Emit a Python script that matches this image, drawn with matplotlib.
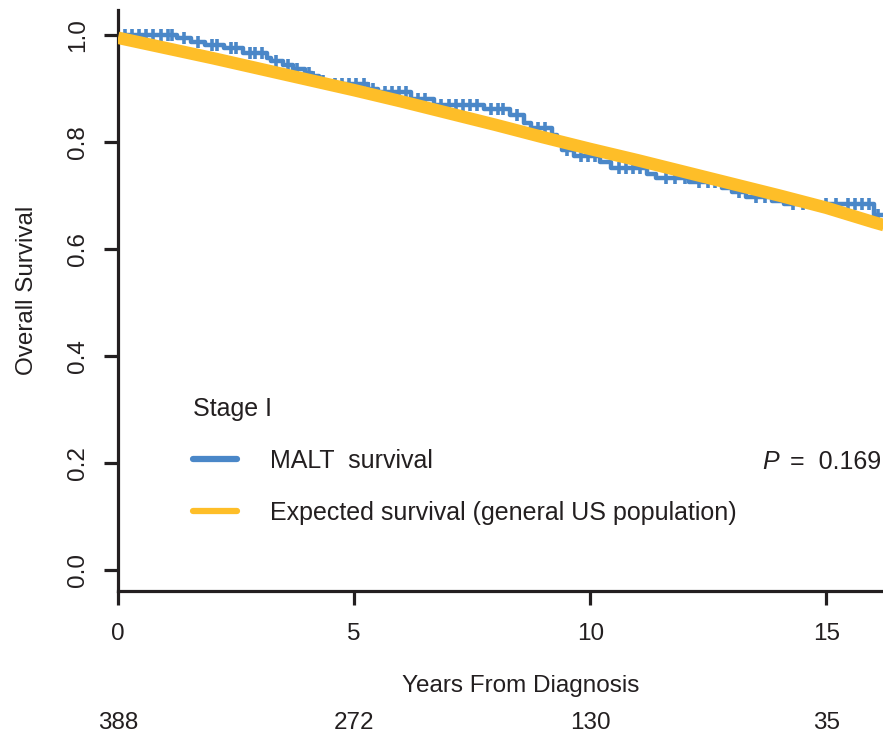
import numpy as np
import matplotlib as mpl
import matplotlib.pyplot as plt
from matplotlib.lines import Line2D
from matplotlib.transforms import blended_transform_factory

mpl.rcParams['font.family'] = ['Liberation Sans', 'DejaVu Sans']

INK = '#231f20'
BLUE = '#4a87c8'
GOLD = '#febe28'

# Kaplan-Meier estimate, stage I MALT (step values after each time)
km_times = [0, 1.25, 1.55, 1.85, 2.25, 2.65, 3.15, 3.25, 3.5, 3.7, 3.95,
            4.1, 4.25, 4.45, 5.3, 5.5, 6.2, 6.7, 7.75, 8.3, 8.6, 8.75,
            9.2, 9.3, 9.4, 9.65, 10.2, 10.45, 11.2, 11.4, 12.1, 12.8,
            13.0, 13.3, 13.85, 14.1, 16.0, 16.4]
km_surv = [1.0, 0.994, 0.987, 0.981, 0.975, 0.967, 0.958, 0.951, 0.944,
           0.937, 0.930, 0.923, 0.915, 0.908, 0.900, 0.893, 0.881, 0.870,
           0.862, 0.850, 0.836, 0.826, 0.813, 0.800, 0.785, 0.773, 0.762,
           0.752, 0.740, 0.733, 0.726, 0.714, 0.706, 0.697, 0.689, 0.684,
           0.663, 0.663]

# censored follow-up times
censor_times = [0.15, 0.3, 0.45, 0.6, 0.75, 0.9, 1.05, 1.15, 1.4, 1.7, 2.0,
                2.1, 2.4, 2.5, 2.8, 2.9, 3.05, 3.35, 3.6, 3.8, 4.05, 4.35,
                4.6, 4.75, 4.9, 5.05, 5.2, 5.4, 5.65, 5.8, 5.95, 6.1, 6.35,
                6.5, 6.85, 7.0, 7.15, 7.3, 7.45, 7.6, 7.9, 8.05, 8.15, 8.45,
                8.9, 9.05, 9.5, 9.8, 9.95, 10.1, 10.6, 10.75, 10.9, 11.05,
                11.6, 11.8, 12.0, 12.3, 12.5, 12.65, 13.15, 13.5, 13.7, 14.3,
                14.5, 14.7, 15.0, 15.2, 15.45, 15.6, 15.75, 15.9, 16.1]

# expected survival of the matched general US population
exp_times = [0, 1, 2, 3, 4, 5, 6, 7, 8, 9, 10, 11, 12, 13, 14, 15, 16, 16.4]
exp_surv = [0.995, 0.976, 0.957, 0.937, 0.917, 0.897, 0.876, 0.854, 0.832,
            0.809, 0.787, 0.766, 0.744, 0.722, 0.700, 0.677, 0.650, 0.640]

risk_times = [0, 5, 10, 15]
at_risk = [388, 272, 130, 35]

W, H = 883, 733
fig = plt.figure(figsize=(W / 100, H / 100), dpi=100)
ax = fig.add_axes([118 / W, 1 - 591 / H, 1 - 118 / W, (591 - 10) / H])

ax.plot(km_times, km_surv, drawstyle='steps-post', color=BLUE, lw=3.2,
        zorder=2)
idx = np.searchsorted(km_times, censor_times, side='right') - 1
ax.plot(censor_times, np.asarray(km_surv)[idx], ls='none', marker='+',
        ms=8, mew=2.6, color=BLUE, zorder=2)
ax.plot(exp_times, exp_surv, color=GOLD, lw=9, solid_capstyle='butt',
        zorder=3)

ax.set_xlim(0, 16.2)
ax.set_ylim(-0.04, 1.047)
ax.set_xticks([0, 5, 10, 15])
ax.set_yticks([0.0, 0.2, 0.4, 0.6, 0.8, 1.0])
ax.set_yticklabels(['0.0', '0.2', '0.4', '0.6', '0.8', '1.0'])
for s in ['top', 'right']:
    ax.spines[s].set_visible(False)
for s in ['left', 'bottom']:
    ax.spines[s].set_linewidth(2.3)
    ax.spines[s].set_color(INK)
ax.tick_params(axis='both', colors=INK, width=2.3, length=10,
               labelsize=17.5, labelcolor=INK)
ax.tick_params(axis='x', pad=13)
ax.tick_params(axis='y', pad=11, labelrotation=90)
for lab in ax.get_yticklabels():
    lab.set_va('center')

ax.set_xlabel('Years From Diagnosis', fontsize=17.5, color=INK)
ax.xaxis.label.set_va('center')
ax.xaxis.set_label_coords((521 - 118) / (W - 118), (591 - 686) / 581)
ax.set_ylabel('Overall Survival', fontsize=17.5, color=INK)
ax.yaxis.label.set_va('center')
ax.yaxis.set_label_coords((27 - 118) / (W - 118), (591 - 290) / 581)

# numbers at risk under each tick
trans = blended_transform_factory(ax.transData, fig.transFigure)
for t, n in zip(risk_times, at_risk):
    ax.text(t, 1 - 723 / H, str(n), transform=trans, ha='center',
            va='center', fontsize=17.5, color=INK, clip_on=False)

handles = [Line2D([], [], color=BLUE, lw=4.5, solid_capstyle='round'),
           Line2D([], [], color=GOLD, lw=4.5, solid_capstyle='round')]
leg = ax.legend(handles, ['MALT  survival',
                          'Expected survival (general US population)'],
                title='Stage I', title_fontsize=18, fontsize=18,
                loc='upper left', bbox_to_anchor=(193 / W, 1 - 397 / H),
                bbox_transform=fig.transFigure, frameon=False,
                alignment='left', borderpad=0, borderaxespad=0,
                handlelength=1.76, handletextpad=1.3, labelspacing=1.12)
for txt in leg.get_texts():
    txt.set_color(INK)
leg.get_title().set_color(INK)

# log-rank p-value
fig.text(762 / W, 1 - 462 / H, 'P', ha='left', va='center', fontsize=18,
         style='italic', color=INK)
fig.text(881 / W, 1 - 462 / H, '=  0.169', ha='right', va='center',
         fontsize=18, color=INK)

fig.savefig('out.png', dpi=100)
